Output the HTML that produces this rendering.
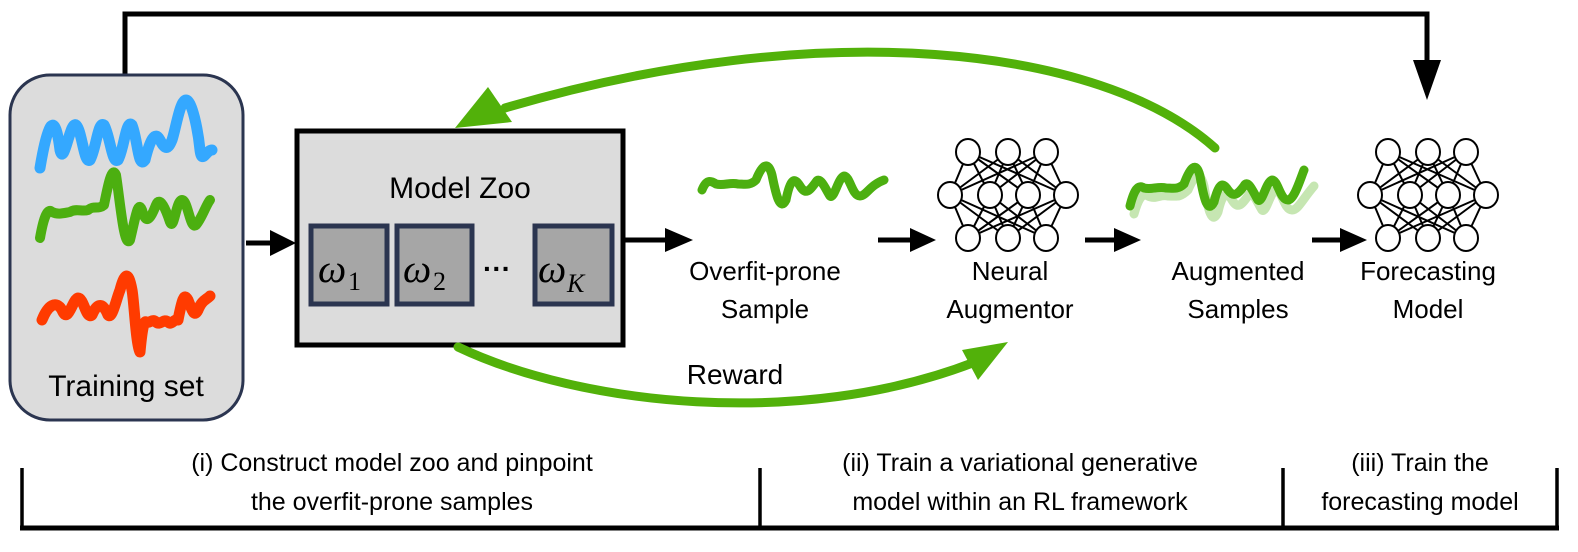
<!DOCTYPE html>
<html><head><meta charset="utf-8"><style>
html,body{margin:0;padding:0;background:#fff;width:1578px;height:552px;overflow:hidden}
svg text{font-family:"Liberation Sans",sans-serif;fill:#000}
</style></head><body>
<svg width="1578" height="552" viewBox="0 0 1578 552" xmlns="http://www.w3.org/2000/svg">
<defs>
<g id="nn" stroke="#000" stroke-width="2" fill="none">
<path d="M-40,-43L-58,0M-40,-43L-18,0M-40,-43L20,0M-40,-43L58,0M0,-43L-58,0M0,-43L-18,0M0,-43L20,0M0,-43L58,0M38,-43L-58,0M38,-43L-18,0M38,-43L20,0M38,-43L58,0"/>
<path d="M-40,43L-58,0M-40,43L-18,0M-40,43L20,0M-40,43L58,0M0,43L-58,0M0,43L-18,0M0,43L20,0M0,43L58,0M38,43L-58,0M38,43L-18,0M38,43L20,0M38,43L58,0"/>
<g fill="#fff">
<ellipse cx="-40" cy="-43" rx="12" ry="13"/><ellipse cx="0" cy="-43" rx="12" ry="13"/><ellipse cx="38" cy="-43" rx="12" ry="13"/>
<ellipse cx="-58" cy="0" rx="12" ry="13"/><ellipse cx="-18" cy="0" rx="12" ry="13"/><ellipse cx="20" cy="0" rx="12" ry="13"/><ellipse cx="58" cy="0" rx="12" ry="13"/>
<ellipse cx="-40" cy="43" rx="12" ry="13"/><ellipse cx="0" cy="43" rx="12" ry="13"/><ellipse cx="38" cy="43" rx="12" ry="13"/>
</g>
</g>
</defs>

<path d="M125,75 V14 H1427 V65" stroke="#000" stroke-width="5" fill="none"/>
<polygon points="1413,60 1441,60 1427,100" fill="#000"/>

<rect x="10" y="75" width="233" height="345" rx="40" fill="#dcdcdc" stroke="#2b3550" stroke-width="3"/>
<path d="M40,168 C48,120 55,110 60,150 C64,168 70,120 76,125 C82,130 84,165 90,160 C96,150 98,120 104,125 C110,135 112,165 118,160 C124,150 126,118 132,125 C138,140 138,170 145,160 C150,140 155,130 160,140 C165,150 168,150 172,140 C176,128 180,100 186,100 C192,100 198,130 200,150 C202,165 206,150 212,150" stroke="#34a8ff" stroke-width="11" fill="none" stroke-linecap="round" stroke-linejoin="round"/>
<path d="M40,238 C44,215 48,208 52,212 C58,215 64,213 70,212 C76,208 82,212 88,210 C94,205 98,210 104,205 C108,185 112,165 116,175 C120,200 124,250 130,240 C136,215 138,200 142,210 C146,225 150,220 156,205 C160,195 166,210 170,222 C174,232 176,200 182,200 C188,200 190,230 196,225 C202,218 206,205 210,200" stroke="#4caf10" stroke-width="10" fill="none" stroke-linecap="round" stroke-linejoin="round"/>
<path d="M42,320 C48,305 56,300 62,310 C68,325 72,300 78,298 C84,298 86,320 92,315 C96,305 102,300 108,315 C112,320 116,300 120,290 C124,275 128,268 132,290 C134,300 136,345 140,352 C142,330 144,320 146,322 C150,324 152,318 156,322 C160,326 164,318 168,322 C172,326 174,318 178,320 C182,300 184,292 188,300 C192,310 194,318 198,310 C202,300 206,300 210,296" stroke="#ff3b00" stroke-width="11" fill="none" stroke-linecap="round" stroke-linejoin="round"/>
<text x="126" y="396" font-size="30" text-anchor="middle">Training set</text>

<path d="M246,243 H275" stroke="#000" stroke-width="5"/>
<polygon points="270,230 296,243 270,256" fill="#000"/>

<rect x="297" y="131" width="326" height="214" fill="#dcdcdc" stroke="#000" stroke-width="5"/>
<text x="460" y="198" font-size="30" text-anchor="middle">Model Zoo</text>
<g fill="#a6a6a6" stroke="#2b3550" stroke-width="5">
<rect x="311" y="226" width="76" height="78"/>
<rect x="397" y="226" width="75" height="78"/>
<rect x="535" y="226" width="77" height="78"/>
</g>
<text x="318" y="282" font-size="40" font-style="italic" font-family="Liberation Serif,serif" style="font-family:'Liberation Serif',serif">ω</text><text x="348" y="290" font-size="26" style="font-family:'Liberation Serif',serif">1</text>
<text x="403" y="282" font-size="40" font-style="italic" style="font-family:'Liberation Serif',serif">ω</text><text x="433" y="290" font-size="26" style="font-family:'Liberation Serif',serif">2</text>
<text x="538" y="282" font-size="40" font-style="italic" style="font-family:'Liberation Serif',serif">ω</text><text x="567" y="292" font-size="26" font-style="italic" style="font-family:'Liberation Serif',serif">K</text>
<text x="497" y="278" font-size="28" text-anchor="middle" font-weight="bold">···</text>

<path d="M625,240 H670" stroke="#000" stroke-width="5"/>
<polygon points="665,228 693,240 665,252" fill="#000"/>

<path d="M702,190 C706,180 710,180 716,184 C724,186 730,182 738,184 C744,184 750,186 756,180 C762,165 768,160 772,175 C776,195 780,212 786,200 C790,180 794,176 800,186 C806,196 810,190 816,182 C820,175 826,190 830,196 C834,200 838,178 844,176 C850,176 852,196 860,196 C866,196 870,185 884,180" stroke="#4caf10" stroke-width="9" fill="none" stroke-linecap="round" stroke-linejoin="round"/>
<text x="765" y="280" font-size="26" text-anchor="middle">Overfit-prone</text>
<text x="765" y="318" font-size="26" text-anchor="middle">Sample</text>

<path d="M878,240 H915" stroke="#000" stroke-width="5"/>
<polygon points="910,228 936,240 910,252" fill="#000"/>

<use href="#nn" x="1008" y="195"/>
<text x="1010" y="280" font-size="26" text-anchor="middle">Neural</text>
<text x="1010" y="318" font-size="26" text-anchor="middle">Augmentor</text>

<path d="M1085,240 H1120" stroke="#000" stroke-width="5"/>
<polygon points="1114,228 1141,240 1114,252" fill="#000"/>

<path d="M1134,214 C1138,200 1142,192 1148,196 C1156,200 1160,194 1168,196 C1176,196 1180,198 1188,190 C1194,176 1200,170 1204,186 C1208,210 1212,226 1218,212 C1222,195 1226,190 1232,200 C1238,210 1242,204 1248,196 C1252,188 1258,204 1262,210 C1266,214 1270,192 1276,190 C1282,190 1284,210 1292,210 C1298,210 1302,200 1314,186" stroke="#c6e6b2" stroke-width="9" fill="none" stroke-linecap="round" stroke-linejoin="round"/>
<path d="M1130,206 C1134,190 1138,184 1144,188 C1152,190 1158,186 1166,188 C1172,188 1178,190 1184,184 C1190,168 1196,160 1200,176 C1204,200 1208,214 1214,202 C1218,186 1222,180 1228,190 C1234,198 1238,194 1244,186 C1248,178 1254,194 1258,200 C1262,204 1266,182 1272,180 C1278,180 1280,200 1288,200 C1294,200 1300,180 1304,170" stroke="#4caf10" stroke-width="9" fill="none" stroke-linecap="round" stroke-linejoin="round"/>
<text x="1238" y="280" font-size="26" text-anchor="middle">Augmented</text>
<text x="1238" y="318" font-size="26" text-anchor="middle">Samples</text>

<path d="M1312,240 H1345" stroke="#000" stroke-width="5"/>
<polygon points="1340,228 1367,240 1340,252" fill="#000"/>

<use href="#nn" x="1428" y="195"/>
<text x="1428" y="280" font-size="26" text-anchor="middle">Forecasting</text>
<text x="1428" y="318" font-size="26" text-anchor="middle">Model</text>

<path d="M1215,148 C1100,45 820,15 505,108" stroke="#52b10a" stroke-width="9" fill="none" stroke-linecap="round"/>
<polygon points="455,128 488,87 512,122" fill="#52b10a"/>

<path d="M458,347 C580,405 800,430 975,362" stroke="#52b10a" stroke-width="9" fill="none" stroke-linecap="round"/>
<polygon points="1008,342 962,350 978,380" fill="#52b10a"/>
<text x="735" y="384" font-size="28" text-anchor="middle">Reward</text>

<path d="M22,528 V468 M760,528 V468 M1283,528 V468 M1557,528 V468" stroke="#000" stroke-width="3.5" fill="none"/>
<path d="M20,528 H1559" stroke="#000" stroke-width="5"/>
<g font-size="25" text-anchor="middle">
<text x="392" y="471">(i) Construct model zoo and pinpoint</text>
<text x="392" y="510">the overfit-prone samples</text>
<text x="1020" y="471">(ii) Train a variational generative</text>
<text x="1020" y="510">model within an RL framework</text>
<text x="1420" y="471">(iii) Train the</text>
<text x="1420" y="510">forecasting model</text>
</g>
</svg>
</body></html>
